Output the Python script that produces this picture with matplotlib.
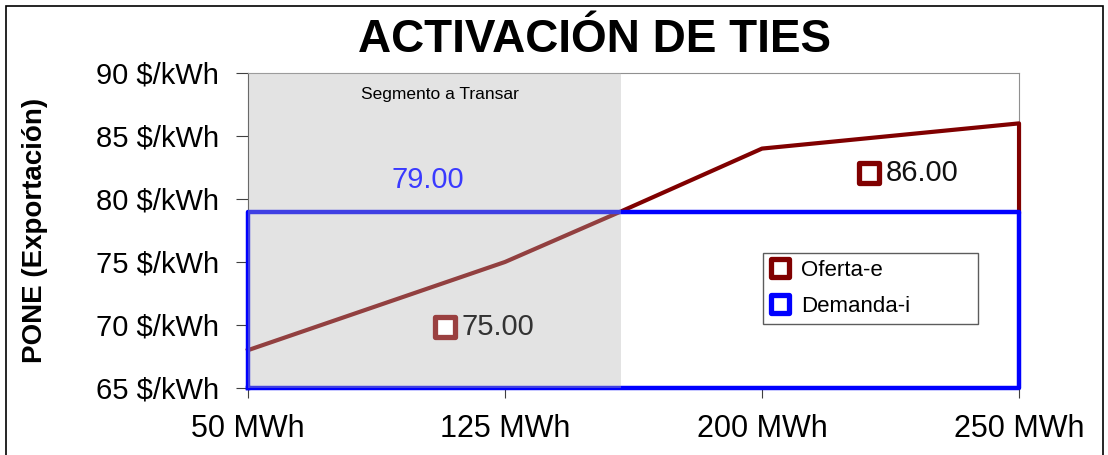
import matplotlib.pyplot as plt
from matplotlib.patches import Rectangle
from matplotlib.lines import Line2D
from matplotlib.markers import MarkerStyle

# datos
categorias = ['50 MWh', '125 MWh', '200 MWh', '250 MWh']
oferta_x = [0, 1, 1.45, 2, 3, 3]
oferta_y = [68, 75, 79, 84, 86, 79]
demanda_x = [0, 0, 3, 3, 0]
demanda_y = [65, 79, 79, 65, 65]
segmento = (0, 1.45)
y_ticks = [65, 70, 75, 80, 85, 90]
precio_demanda = 79.00
precio_oferta_1 = 75.00
precio_oferta_2 = 86.00

rojo = '#800000'
azul = '#0000ff'
cuadro = MarkerStyle('s', joinstyle='round')

plt.rcParams['font.family'] = ['Liberation Sans', 'DejaVu Sans']

fig = plt.figure(figsize=(11.08, 4.55), dpi=100)
ax = fig.add_axes([0.2238, 0.1473, 0.6959, 0.6923])

ax.plot(oferta_x, oferta_y, color=rojo, lw=3, zorder=3, clip_on=False)
ax.plot(demanda_x, demanda_y, color=azul, lw=3.2, zorder=3.5, clip_on=False)

# zona sombreada (por encima de las lineas)
ax.add_patch(Rectangle((segmento[0], 65), segmento[1] - segmento[0], 25,
                       facecolor='#b4b4b4', edgecolor='none', alpha=0.36, zorder=4))
ax.text(sum(segmento) / 2 + 0.02, 88.3, 'Segmento a Transar', ha='center', va='center',
        fontsize=12.5, zorder=5)

ax.text(0.70, 81.5, f'{precio_demanda:.2f}', color='#3a3aff', fontsize=21,
        ha='center', va='center', zorder=5)

ax.plot([0.765], [69.8], marker=cuadro, ms=15, mfc='white', mec='#9a4040', mew=3.8, zorder=5)
ax.text(0.83, 69.8, f'{precio_oferta_1:.2f}', color='#333333', fontsize=21,
        ha='left', va='center', zorder=5)
ax.plot([2.415], [82.1], marker=cuadro, ms=15, mfc='white', mec=rojo, mew=3.8, zorder=5)
ax.text(2.48, 82.1, f'{precio_oferta_2:.2f}', color='#111111', fontsize=21,
        ha='left', va='center', zorder=5)

ax.set_xlim(0, 3)
ax.set_ylim(65, 90)
ax.set_xticks(range(len(categorias)))
ax.set_xticklabels(categorias)
ax.set_yticks(y_ticks)
ax.set_yticklabels([f'{v} $/kWh' for v in y_ticks])
ax.tick_params(axis='y', labelsize=21, length=9, color='#404040', pad=12)
ax.tick_params(axis='x', labelsize=22, length=7, color='#404040', pad=12)

for s in ['top', 'right']:
    ax.spines[s].set_color('#909090')
ax.spines['left'].set_color('#404040')
ax.spines['bottom'].set_color('#404040')

ax.set_ylabel('PONE (Exportación)', fontsize=20, fontweight='bold')
ax.yaxis.set_label_coords(-0.259, 0.5)

fig.text(0.537, 0.912, 'ACTIVACIÓN DE TIES', ha='center', va='center',
         fontsize=33, fontweight='bold')

handles = [Line2D([], [], ls='none', marker=cuadro, ms=13, mfc='white', mec=rojo, mew=3.8),
           Line2D([], [], ls='none', marker=cuadro, ms=13, mfc='white', mec=azul, mew=3.8)]
leg = ax.legend(handles, ['Oferta-e', 'Demanda-i'], loc='upper left',
                bbox_to_anchor=(0.668, 0.0, 0.279, 0.429), mode='expand', borderaxespad=0,
                fontsize=16, frameon=True, fancybox=False,
                handlelength=0.9, handletextpad=0.5, borderpad=0.3, labelspacing=0.7)
leg.get_frame().set_edgecolor('#333333')
leg.get_frame().set_linewidth(1)
leg.set_zorder(6)

# marco exterior
fig.add_artist(Rectangle((0.0054, -0.02), 0.9901, 1.0068, transform=fig.transFigure,
                         fill=False, edgecolor='black', lw=1.2))

fig.savefig('out.png', dpi=100)
